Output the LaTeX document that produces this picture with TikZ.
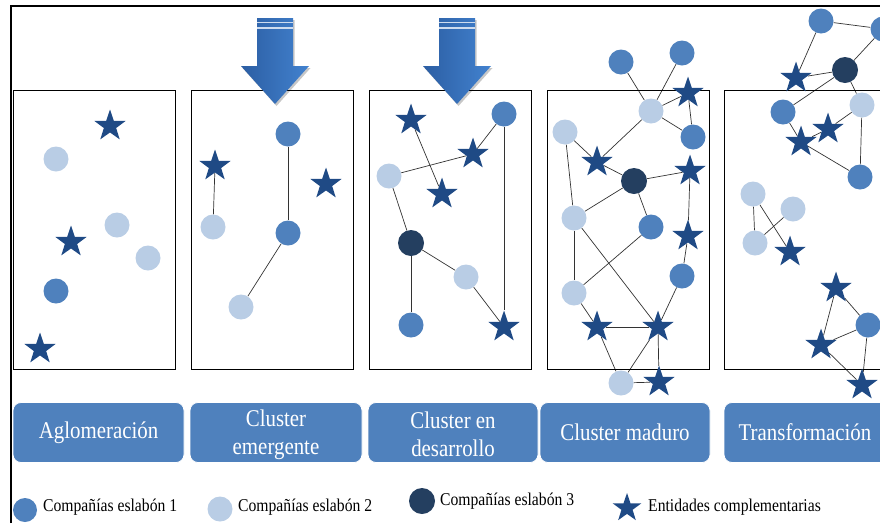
\documentclass[tikz,border=0pt]{standalone}
\usepackage{fontspec}
\setmainfont[FakeStretch=0.87]{Liberation Serif}
\usetikzlibrary{shapes.geometric,backgrounds}
\definecolor{cmid}{HTML}{4F81BD}
\definecolor{clight}{HTML}{B9CDE5}
\definecolor{cdark}{HTML}{243F60}
\definecolor{cstar}{HTML}{1F4A85}
\definecolor{cboxfill}{HTML}{4F81BD}
\definecolor{carrow}{HTML}{3A73BE}
\definecolor{carrowL}{HTML}{2C5EA3}
\definecolor{carrowR}{HTML}{4282CF}
\definecolor{cedge}{HTML}{333333}
\begin{document}
\begin{tikzpicture}[x=1pt,y=-1pt,
  cmidn/.style={circle,fill=cmid,inner sep=0pt,minimum size=25pt},
  clightn/.style={circle,fill=clight,inner sep=0pt,minimum size=25pt},
  cdarkn/.style={circle,fill=cdark,inner sep=0pt,minimum size=26pt},
  starn/.style={star,star points=5,star point ratio=2.55,fill=cstar,inner sep=0pt,minimum size=33pt},
  edge/.style={draw=cedge,line width=0.7pt},
  panel/.style={draw=black,line width=0.8pt},
  lab/.style={rounded corners=8pt,fill=cboxfill,draw=white,line width=0.8pt,text=white,align=center,
    minimum height=60pt,inner sep=0pt,font=\fontsize{24}{28}\selectfont},
  legtext/.style={anchor=west,inner sep=0pt,font=\fontsize{18}{20}\selectfont}
]
\useasboundingbox (0,0) rectangle (880,523);
% outer frame
\draw[line width=1.6pt,black] (11,523) -- (11,6) -- (882,6);
% panels
\draw[panel] (13,90) rectangle (175,369);
\draw[panel] (191,90) rectangle (353,369);
\draw[panel] (369,90) rectangle (531,369);
\draw[panel] (547,90) rectangle (709,369);
\draw[panel] (724,90) rectangle (900,369);
% arrows
\foreach \cx/\nm in {275/arrowA,457/arrowB}{
  \fill[black,opacity=0.22] (\cx-16.5,20) -- (\cx+19.5,20) -- (\cx+19.5,68) -- (\cx+35.5,68) -- (\cx+1.5,106)
     -- (\cx-32.5,68) -- (\cx-16.5,68) -- cycle;
  \shade[left color=carrowL,right color=carrowR] (\cx-18,18) -- (\cx+18,18) -- (\cx+18,66) -- (\cx+34,66) -- (\cx,104)
     -- (\cx-34,66) -- (\cx-18,66) -- cycle;
  \coordinate (\nm s1) at (\cx-18,22.5);
  \coordinate (\nm e1) at (\cx+18,22.5);
  \coordinate (\nm s2) at (\cx-18,28);
  \coordinate (\nm e2) at (\cx+18,28);
  \draw[white!75!carrow,line width=1.1pt] (\nm s1) -- (\nm e1);
  \draw[white!75!carrow,line width=1.1pt] (\nm s2) -- (\nm e2);
}
% Panel 1
\node[starn] (p1s1) at (110,126) {};
\node[clightn] (p1l1) at (56,159) {};
\node[clightn] (p1l2) at (117,225) {};
\node[clightn] (p1l3) at (148,258) {};
\node[starn] (p1s2) at (71,242) {};
\node[cmidn] (p1m1) at (56,291) {};
\node[starn] (p1s3) at (40,349) {};
% Panel 2
\node[starn] (p2s1) at (215,166) {};
\node[clightn] (p2l1) at (213,227) {};
\node[cmidn] (p2m1) at (288,134) {};
\node[cmidn] (p2m2) at (288,233) {};
\node[starn] (p2s2) at (326,184) {};
\node[clightn] (p2l2) at (241,307) {};
% Panel 3
\node[starn] (p3s1) at (411,120) {};
\node[cmidn] (p3m1) at (504,114) {};
\node[starn] (p3s2) at (473,154) {};
\node[clightn] (p3l1) at (389,176) {};
\node[starn] (p3s3) at (442,194) {};
\node[cdarkn] (p3d1) at (411,243) {};
\node[clightn] (p3l2) at (466,277) {};
\node[cmidn] (p3m2) at (411,325) {};
\node[starn] (p3s4) at (504,327) {};
% Panel 4
\node[cmidn] (p4m1) at (621,62) {};
\node[cmidn] (p4m2) at (682,53) {};
\node[starn] (p4s1) at (688,93) {};
\node[clightn] (p4l1) at (651,111) {};
\node[cmidn] (p4m3) at (693,137) {};
\node[clightn] (p4l2) at (565,132) {};
\node[starn] (p4s2) at (597,162) {};
\node[cdarkn] (p4d1) at (634,181) {};
\node[starn] (p4s3) at (690,171) {};
\node[clightn] (p4l3) at (574,218) {};
\node[cmidn] (p4m4) at (651,227) {};
\node[starn] (p4s4) at (688,236) {};
\node[cmidn] (p4m5) at (682,276) {};
\node[clightn] (p4l4) at (574,293) {};
\node[starn] (p4s5) at (597,327) {};
\node[starn] (p4s6) at (658,327) {};
\node[clightn] (p4l5) at (621,383) {};
\node[starn] (p4s7) at (659,382) {};
% Panel 5
\node[cmidn] (p5m1) at (821,21) {};
\node[cmidn] (p5m2) at (883,29) {};
\node[cdarkn] (p5d1) at (845,70) {};
\node[starn] (p5s1) at (796,78) {};
\node[cmidn] (p5m3) at (783,112) {};
\node[clightn] (p5l1) at (862,105) {};
\node[starn] (p5s2) at (828,129) {};
\node[starn] (p5s3) at (801,142) {};
\node[cmidn] (p5m4) at (860,177) {};
\node[clightn] (p5l2) at (753,194) {};
\node[clightn] (p5l3) at (793,209) {};
\node[clightn] (p5l4) at (755,243) {};
\node[starn] (p5s4) at (790,252) {};
\node[starn] (p5s5) at (836,288) {};
\node[cmidn] (p5m5) at (868,325) {};
\node[starn] (p5s6) at (821,345) {};
\node[starn] (p5s7) at (862,385) {};
% edges
\begin{scope}[on background layer]
\draw[edge] (p2s1) -- (p2l1);
\draw[edge] (p2m1) -- (p2m2);
\draw[edge] (p2m2) -- (p2l2);
\draw[edge] (p3s1) -- (p3s3);
\draw[edge] (p3m1) -- (p3s2);
\draw[edge] (p3s2) -- (p3l1);
\draw[edge] (p3l1) -- (p3d1);
\draw[edge] (p3d1) -- (p3m2);
\draw[edge] (p3d1) -- (p3l2);
\draw[edge] (p3l2) -- (p3s4);
\draw[edge] (p3m1) -- (p3s4);
\draw[edge] (p4m1) -- (p4l1);
\draw[edge] (p4m2) -- (p4l1);
\draw[edge] (p4l1) -- (p4s1);
\draw[edge] (p4l1) -- (p4m3);
\draw[edge] (p4s1) -- (p4m3);
\draw[edge] (p4l1) -- (p4s2);
\draw[edge] (p4l2) -- (p4s2);
\draw[edge] (p4s2) -- (p4d1);
\draw[edge] (p4d1) -- (p4s3);
\draw[edge] (p4d1) -- (p4l3);
\draw[edge] (p4d1) -- (p4m4);
\draw[edge] (p4l2) -- (p4l3);
\draw[edge] (p4l3) -- (p4l4);
\draw[edge] (p4l3) -- (p4s6);
\draw[edge] (p4m4) -- (p4l4);
\draw[edge] (p4s3) -- (p4s4);
\draw[edge] (p4s4) -- (p4m5);
\draw[edge] (p4m5) -- (p4s6);
\draw[edge] (p4l4) -- (p4s5);
\draw[edge] (p4s5) -- (p4s6);
\draw[edge] (p4s5) -- (p4l5);
\draw[edge] (p4s6) -- (p4l5);
\draw[edge] (p4s6) -- (p4s7);
\draw[edge] (p4l5) -- (p4s7);
\draw[edge] (p5m1) -- (p5m2);
\draw[edge] (p5m1) -- (p5s1);
\draw[edge] (p5d1) -- (p5m2);
\draw[edge] (p5d1) -- (p5s1);
\draw[edge] (p5d1) -- (p5m3);
\draw[edge] (p5d1) -- (p5l1);
\draw[edge] (p5m3) -- (p5s3);
\draw[edge] (p5s3) -- (p5s2);
\draw[edge] (p5s2) -- (p5l1);
\draw[edge] (p5l1) -- (p5m4);
\draw[edge] (p5s3) -- (p5m4);
\draw[edge] (p5l2) -- (p5l4);
\draw[edge] (p5l2) -- (p5s4);
\draw[edge] (p5l3) -- (p5l4);
\draw[edge] (p5s5) -- (p5m5);
\draw[edge] (p5s5) -- (p5s6);
\draw[edge] (p5s6) -- (p5m5);
\draw[edge] (p5s6) -- (p5s7);
\draw[edge] (p5m5) -- (p5s7);
\end{scope}
% stage labels
\node[lab,minimum width=171pt] (b1) at (98.5,432.5) {\raisebox{-1pt}{Aglomeración}};
\node[lab,minimum width=172pt] (b2) at (276,432.5) {\rule{0pt}{21pt}Cluster\\emergente};
\node[lab,minimum width=170pt] (b3) at (453,432.5) {\rule{0pt}{21pt}Cluster en\\desarrollo};
\node[lab,minimum width=170pt] (b4) at (625,432.5) {\raisebox{-1pt}{Cluster maduro}};
\node[lab,minimum width=170pt,text width=170pt] (b5) at (809,432.5) {\hspace*{-8pt}\raisebox{-1pt}{Transformación}};
% legend
\node[cmidn,minimum size=24pt] (g1) at (25,510) {};
\node[legtext] (t1) at (43,507) {Compañías eslabón 1};
\node[clightn,minimum size=25pt] (g2) at (220,509) {};
\node[legtext] (t2) at (238,507) {Compañías eslabón 2};
\node[cdarkn] (g3) at (422,501) {};
\node[legtext] (t3) at (440,501) {Compañías eslabón 3};
\node[starn,minimum size=30pt] (g4) at (627,508) {};
\node[legtext] (t4) at (648,507) {Entidades complementarias};
\end{tikzpicture}
\end{document}
